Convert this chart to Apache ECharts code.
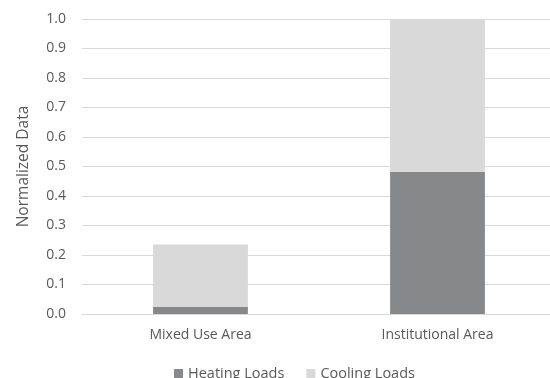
<!DOCTYPE html>
<html>
<head>
<meta charset="utf-8">
<script src="https://cdn.jsdelivr.net/npm/echarts@6/dist/echarts.min.js"></script>
<style>
  html, body { margin: 0; padding: 0; background: #fff; }
  #chart { width: 550px; height: 378px; }
</style>
</head>
<body>
<div id="chart"></div>
<script>
// Normalized heating / cooling loads per area type (stacked)
const categories = ['Mixed Use Area', 'Institutional Area'];
const heatingLoads = [0.025, 0.482];
const coolingLoads = [0.211, 0.518];
const yTicks = { min: 0, max: 1, interval: 0.1 };

const textColor = '#595959';
const fontFamily = '"Open Sans", Lato, sans-serif';

const chart = echarts.init(document.getElementById('chart'));
chart.setOption({
  animation: false,
  grid: { left: 82, width: 474, top: 19, height: 295, outerBoundsMode: 'none' },
  xAxis: {
    type: 'category',
    data: categories,
    axisLine: { show: true, lineStyle: { color: '#d9d9d9', width: 1 } },
    axisTick: { show: false },
    axisLabel: { color: textColor, fontFamily, fontSize: 14, margin: 14 }
  },
  yAxis: {
    type: 'value',
    min: yTicks.min,
    max: yTicks.max,
    interval: yTicks.interval,
    name: 'Normalized Data',
    nameLocation: 'middle',
    nameGap: 50,
    nameTextStyle: { color: textColor, fontFamily, fontSize: 15.5 },
    axisLine: { show: false },
    axisTick: { show: false },
    splitLine: { lineStyle: { color: '#d9d9d9', width: 1 } },
    axisLabel: {
      color: textColor, fontFamily, fontSize: 14, margin: 16,
      formatter: v => v.toFixed(1)
    }
  },
  legend: {
    top: 361,
    left: 169,
    itemWidth: 9,
    itemHeight: 9,
    itemGap: 22,
    icon: 'rect',
    textStyle: { color: textColor, fontFamily, fontSize: 14.5 },
    data: ['Heating Loads', 'Cooling Loads']
  },
  series: [
    {
      name: 'Heating Loads',
      type: 'bar',
      stack: 'loads',
      data: heatingLoads,
      barCategoryGap: '60%',
      itemStyle: { color: '#87888a' }
    },
    {
      name: 'Cooling Loads',
      type: 'bar',
      stack: 'loads',
      data: coolingLoads,
      barCategoryGap: '60%',
      itemStyle: { color: '#d9d9da' }
    }
  ]
});
</script>
</body>
</html>
